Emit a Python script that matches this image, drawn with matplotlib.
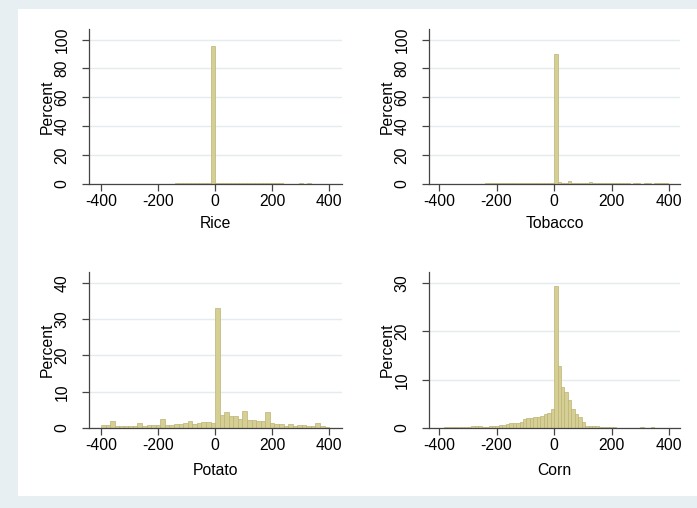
import numpy as np
import matplotlib
matplotlib.use("Agg")
import matplotlib.pyplot as plt
from matplotlib.patches import Rectangle

plt.rcParams['font.family'] = ['Liberation Sans', 'DejaVu Sans']
plt.rcParams['axes.unicode_minus'] = False

# bin edges (start, width, count) and percent per bin
rice_start, rice_width = -406, 14
rice_pct = [0.1, 0.1, 0.1, 0.1, 0.1, 0.1, 0.1, 0.1, 0.3, 0.1,
            0.1, 0.1, 0.2, 0.2, 0.2, 0.2, 0.2, 0.3, 0.3, 0.4,
            0.8, 0.6, 0.8, 0.9, 0.9, 0.9, 0.9, 1.0, 95.3, 1.0,
            0.9, 0.9, 0.9, 0.9, 0.8, 0.9, 0.9, 0.9, 0.9, 0.8,
            0.9, 0.8, 0.8, 0.7, 0.7, 0.4, 0.2, 0.2, 0.2, 0.3,
            0.5, 0.3, 0.8, 0.3, 0.2, 0.1, 0.1, 0.1]

tobacco_start, tobacco_width = -396, 12
tobacco_pct = [0.2, 0.2, 0.2, 0.2, 0.2, 0.2, 0.2, 0.2, 0.2, 0.2,
               0.2, 0.2, 0.2, 0.5, 0.6, 0.6, 0.6, 0.6, 0.6, 0.6,
               0.6, 0.6, 0.6, 0.6, 0.6, 0.6, 0.6, 0.6, 0.6, 0.6,
               0.6, 0.6, 0.6, 90.2, 1.6, 0.9, 0.7, 2.4, 0.9, 0.7,
               0.7, 0.7, 0.8, 1.6, 0.8, 0.8, 0.7, 0.7, 0.7, 0.7,
               0.7, 0.7, 0.6, 0.6, 0.5, 0.3, 0.6, 0.6, 0.3, 0.6,
               0.6, 0.3, 0.6, 0.6, 0.6, 0.6, 0.3]

potato_start, potato_width = -400, 16
potato_pct = [0.9, 0.8, 1.9, 0.5, 0.5, 0.5, 0.5, 0.5, 1.4, 0.5,
              0.8, 0.8, 0.8, 2.6, 0.8, 0.9, 1.1, 1.1, 1.4, 1.9,
              1.1, 1.3, 1.6, 1.6, 1.4, 33.0, 3.6, 4.3, 3.4, 3.4,
              2.6, 4.6, 2.3, 2.1, 1.9, 1.8, 4.4, 1.3, 1.2, 1.0,
              0.6, 1.0, 0.6, 0.8, 0.8, 0.5, 0.5, 1.3, 0.6, 0.4]

corn_start, corn_width = -396, 12
corn_pct = [0.1, 0.15, 0.15, 0.2, 0.15, 0.2, 0.2, 0.25, 0.3, 0.4,
            0.5, 0.4, 0.3, 0.3, 0.4, 0.4, 0.4, 0.6, 0.7, 0.8,
            1.0, 1.0, 1.1, 1.3, 1.8, 2.1, 2.0, 2.3, 2.3, 2.4,
            3.0, 3.1, 3.9, 29.4, 12.9, 8.5, 7.4, 5.9, 4.0, 2.8,
            2.2, 1.2, 0.5, 0.5, 0.5, 0.4, 0.3, 0.3, 0.3, 0.15,
            0.15, 0.1, 0.1, 0.1, 0.1, 0.1, 0.1, 0.1, 0.15, 0.1,
            0.1, 0.15, 0.1, 0.1, 0.05, 0.05, 0.05]

names = ["Rice", "Tobacco", "Potato", "Corn"]
starts = [rice_start, tobacco_start, potato_start, corn_start]
widths = [rice_width, tobacco_width, potato_width, corn_width]
pcts = [rice_pct, tobacco_pct, potato_pct, corn_pct]
yticks = [[0, 20, 40, 60, 80, 100], [0, 20, 40, 60, 80, 100],
          [0, 10, 20, 30, 40], [0, 10, 20, 30]]
ytops = [107.3, 107.3, 43.0, 32.3]

# axes boxes in pixels: left, right, top, bottom  (figure is 697 x 508)
boxes = [(89, 342, 29, 184), (429, 680, 29, 184),
         (89, 342, 272, 428), (429, 680, 272, 428)]
xlims = [(-442, 445), (-435, 438), (-442, 445), (-435, 438)]
xlab_y = [-0.205, -0.205, -0.225, -0.225]

W, H = 697, 508
fig = plt.figure(figsize=(W / 100, H / 100), dpi=100)
fig.patch.set_facecolor('#e8eff2')
fig.patches.append(Rectangle((18 / W, 1 - 496 / H), (W - 18) / W, 487 / H,
                             transform=fig.transFigure, facecolor='white',
                             edgecolor='none', zorder=-5))

for name, st, wd, pc, yt, ytop, box, xl, xly in zip(
        names, starts, widths, pcts, yticks, ytops, boxes, xlims, xlab_y):
    l, r, t, b = box
    ax = fig.add_axes([l / W, 1 - b / H, (r - l) / W, (b - t) / H])
    ax.set_facecolor('none')
    left_edges = st + wd * np.arange(len(pc))
    ax.bar(left_edges, pc, width=wd, align='edge', color='#d6cf93',
           edgecolor='#bbb376', linewidth=0.5, zorder=2)
    ax.set_xlim(*xl)
    ax.set_ylim(0, ytop)
    ax.set_xticks([-400, -200, 0, 200, 400])
    ax.set_yticks(yt)
    ax.grid(axis='y', color='#e4ecef', linewidth=1.0, zorder=0)
    ax.set_axisbelow(True)
    for s in ['top', 'right']:
        ax.spines[s].set_visible(False)
    for s in ['left', 'bottom']:
        ax.spines[s].set_color('#444444')
        ax.spines[s].set_linewidth(0.9)
    ax.tick_params(axis='both', length=5, width=0.9, color='#444444',
                   labelsize=11.3, labelcolor='black')
    ax.tick_params(axis='x', pad=2)
    ax.tick_params(axis='y', pad=9)
    for lbl in ax.get_yticklabels():
        lbl.set_rotation(90)
        lbl.set_va('center')
    ax.set_ylabel("Percent", fontsize=11.3)
    ax.yaxis.set_label_coords(-0.135, 0.5)
    ax.set_xlabel(name, fontsize=11.3)
    ax.xaxis.set_label_coords(0.5, xly)

fig.savefig("out.png", dpi=100, facecolor=fig.get_facecolor())
